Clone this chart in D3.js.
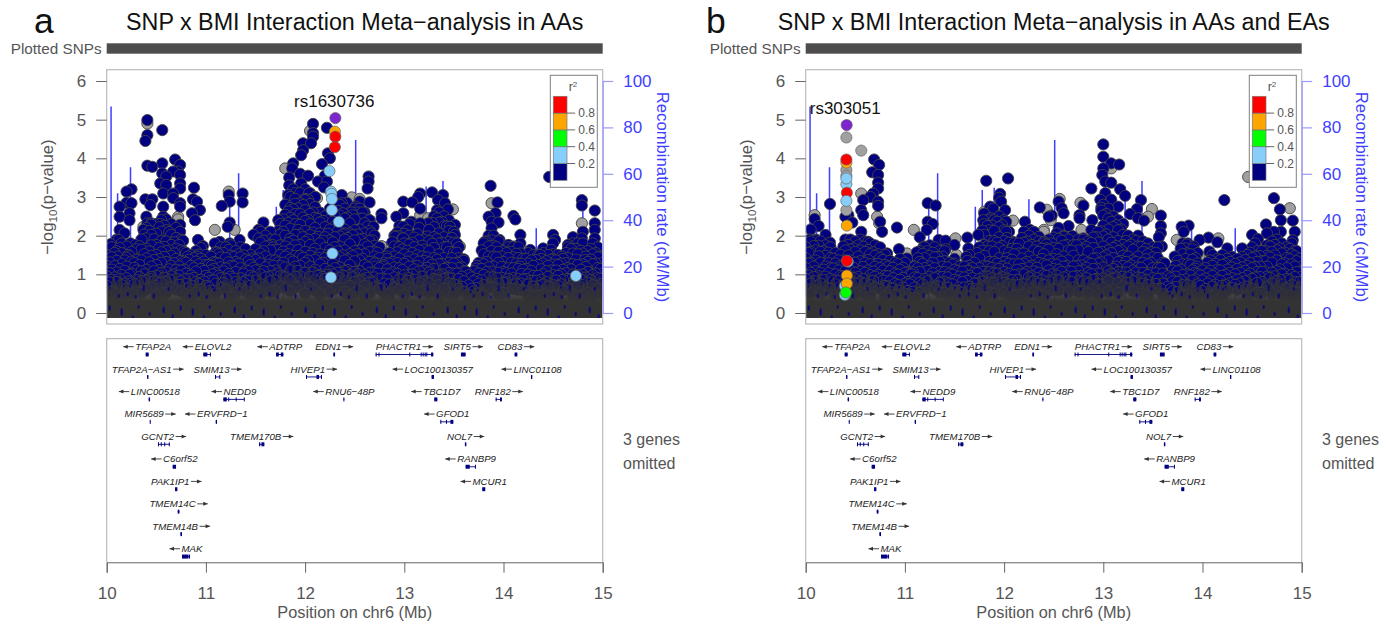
<!DOCTYPE html>
<html>
<head>
<meta charset="utf-8">
<script src="https://cdnjs.cloudflare.com/ajax/libs/d3/7.8.5/d3.min.js"></script>
<style>
    html, body { margin: 0; padding: 0; background: #ffffff; }
    svg { display: block; font-family: "Liberation Sans", sans-serif; }
    .axis-grey text { fill: #555555; font-size: 17px; font-family: "Liberation Sans", sans-serif; }
    .axis-grey line, .axis-grey path { stroke: #666666; stroke-width: 1; }
    .axis-blue text { fill: #3f3fff; font-size: 17px; font-family: "Liberation Sans", sans-serif; }
    .axis-blue line, .axis-blue path { stroke: #9a9aff; stroke-width: 1.2; }
</style>
</head>
<body>
<div id="chart"></div>
<script>
const logpTicks = [0, 1, 2, 3, 4, 5, 6];
const rateTicks = [0, 20, 40, 60, 80, 100];
const posTicks = [10, 11, 12, 13, 14, 15];
const r2Ticks = [0.2, 0.4, 0.6, 0.8];
const r2Colors = ['#000080', '#87cefa', '#00ff00', '#ffa500', '#ff0000'];

// recombination spikes, [Mb, cM/Mb]
const recombPeaks = [
    [10.044, 89], [10.11, 51.6], [10.24, 62.8], [11.24, 45.8], [11.33, 60.2], [11.71, 45.8],
    [11.78, 53], [11.9, 54], [12.25, 49], [12.51, 74.6], [12.82, 31], [13.22, 54.5],
    [13.39, 56.9], [13.89, 35.8], [14.33, 36.5], [14.8, 44.4]
];

const aaNavy = [
    [10.04,1.78],[10.03,1.03],[10.13,2.75],[10.13,2.49],[10.13,2.15],[10.12,1.89],[10.11,1.46],
    [10.2,2.85],[10.2,3.14],[10.25,3.2],[10.25,2.84],[10.23,2.58],[10.23,2.4],[10.18,2.06],[10.24,1.8],[10.22,1.5],[10.29,1.76],
    [10.41,4.99],[10.41,4.6],[10.39,4.45],[10.41,3.81],[10.46,3.78],[10.39,2.94],[10.44,2.79],[10.46,2.94],[10.4,2.49],[10.41,2.32],[10.37,2.15],[10.45,2.32],
    [10.56,4.73],[10.56,3.87],[10.56,3.61],[10.6,3.53],[10.54,3.35],[10.6,3.31],[10.57,3.09],[10.57,2.75],[10.57,2.49],[10.54,2.3],
    [10.69,3.97],[10.74,3.83],[10.72,3.66],[10.74,3.57],[10.67,3.66],[10.74,3.35],[10.74,3.22],[10.67,3.09],[10.67,2.97],[10.74,2.84],[10.74,2.75],
    [10.74,2.28],[10.74,2.1],[10.77,1.87],[10.78,1.59],[10.88,3.24],[10.87,2.94],[10.91,2.88],[10.94,2.66],[10.86,2.58],[10.89,2.4],[10.92,1.89],[10.97,1.73],[10.91,1.46],[10.82,1.46],
    [11.16,2.77],[11.23,3.05],[11.24,2.88],[11.24,2.34],[11.22,2.23],[11.37,3.09],[11.37,2.86],[11.34,1.89],[11.09,1.8],[11.11,1.56],[11.07,1.0],[11.06,1.22],[11.05,1.46],[11.14,1.84],[11.24,1.8],
    [11.58,2.34],[11.53,2.15],[11.48,2.02],[11.65,2.1],[11.67,1.76],[11.73,2.4],
    [11.88,3.87],[11.87,3.74],[11.98,4.21],[11.96,4.08],[11.98,4.39],[12.08,4.89],[12.08,4.65],[12.08,4.56],[12.06,4.39],[12.22,4.79],[12.23,4.13],[12.25,4.0],[12.17,3.85],
    [11.84,3.5],[11.84,3.3],[11.88,3.2],[11.95,3.6],[11.96,3.35],[12.03,3.55],[12.04,3.1],[12.13,3.4],[12.2,3.55],[12.19,3.25],[12.22,3.4],[11.83,3.05],[11.9,2.95],[12.0,2.95],[12.1,3.0],
    [12.64,3.53],[12.64,3.4],[12.63,3.22],[12.65,2.86],[12.55,2.88],[12.47,2.6],[12.37,3.05],[12.37,2.84],[12.4,2.06],[12.42,2.85],[12.51,2.75],[12.58,2.6],
    [12.77,2.56],[12.77,2.45],[12.69,2.23],[12.65,2.4],[12.67,2.06],[12.7,1.59],[12.82,1.46],[12.79,1.24],[12.7,1.28],
    [12.99,2.88],[13.08,2.86],[12.99,2.58],[12.92,2.49],[12.99,2.23],[13.07,2.36],[13.16,2.7],[13.14,3.0],[13.16,3.09],[13.28,3.12],[13.39,3.05],[13.34,2.92],[13.41,2.84],[13.33,2.66],[13.44,2.68],[13.51,2.28],[13.46,2.23],[13.24,2.32],[13.16,2.32],[13.51,2.02],[13.53,1.8],[13.6,1.39],[13.62,1.07],[12.91,1.97],[12.99,1.93],
    [13.73,1.22],[13.87,3.29],[13.94,2.86],[13.85,2.49],[13.92,2.58],[13.88,2.36],[13.95,2.34],[13.88,2.19],[13.81,1.84],[13.96,1.89],
    [14.1,2.51],[14.12,2.42],[14.17,2.02],[14.05,1.76],[14.1,1.72],[14.17,1.8],[14.17,1.54],[14.17,1.2],[14.27,1.63],[14.37,1.5],[14.4,1.67],[14.5,2.02],[14.52,1.89],[14.5,1.4],[14.59,1.46],[14.65,1.76],[14.7,1.96],
    [14.79,2.92],[14.79,2.78],[14.92,2.65],[14.92,2.32],[14.92,2.15],[14.8,2.1],[14.79,1.93],[14.92,1.93],[14.82,1.37],[14.97,1.46],[14.46,3.52]
];
const aaGrey = [
    [10.41,4.9],[11.09,2.15],[11.29,2.15],[11.23,3.14],[10.72,2.49],[10.66,2.3],[10.37,2.23],[10.03,1.24],[11.8,3.74],[12.05,4.71],[12.12,2.97],[12.37,2.99],
    [13.16,2.53],[13.24,2.45],[13.49,2.68],[12.77,1.73],[14.79,2.32],[13.88,2.84],[12.47,2.99],[12.55,2.95],[13.56,1.72],[10.72,2.42]
];
// LD coloured SNPs, [Mb, -log10 p, r2 class]
const aaHits = [
    [12.245,3.67,1],[12.26,3.14,1],[12.265,3.08,1],[12.27,2.95,1],[12.27,2.66,1],[12.34,2.36,1],[12.275,1.54,1],[12.26,0.92,1],[14.73,0.96,1],
    [12.30,4.69,3],[12.305,4.56,4],[12.30,4.29,4]
];
const aaLead = [12.305, 5.04];

// panel a, body of the cloud, [Mb, then -log10 p values in that column]
const aaCover = [
    [10.00,1.5,1.22,.95,.7,.42],[10.05,1.7,1.44,1.12,.86,.55],[10.1,1.9,1.6,1.35,1.05,.8,.48],[10.15,1.8,1.55,1.27,.98,.72,.4],[10.2,1.72,1.43,1.2,.9,.63],
    [10.25,1.58,1.33,1.02,.77,.5],[10.3,1.65,1.38,1.1,.85,.55],[10.35,1.9,1.64,1.36,1.08,.82,.52],[10.4,2.2,1.93,1.66,1.41,1.12,.84,.6],[10.45,2.28,2.02,1.75,1.48,1.2,.93,.66],
    [10.5,2.3,2.05,1.76,1.5,1.24,.96,.7,.44],[10.55,2.4,2.1,1.86,1.57,1.3,1.03,.78,.5],[10.6,2.42,2.14,1.85,1.6,1.32,1.05,.8,.52],[10.65,2.3,2.02,1.76,1.48,1.22,.95,.66],[10.7,2.2,1.94,1.66,1.4,1.12,.88,.6],
    [10.75,1.9,1.62,1.35,1.1,.82,.56],[10.8,1.55,1.3,1.02,.75,.48],[10.85,1.5,1.22,.97,.7,.44],[10.9,1.6,1.33,1.07,.8,.52],[10.95,1.68,1.4,1.14,.86,.6],
    [11.0,1.5,1.24,.96,.7,.42],[11.05,1.1,.84,.58],[11.1,1.58,1.3,1.03,.76,.5],[11.15,1.7,1.44,1.18,.9,.64],[11.2,1.7,1.42,1.15,.88,.6],
    [11.25,1.75,1.48,1.22,.94,.68,.42],[11.3,1.6,1.32,1.06,.8,.52],[11.35,1.7,1.44,1.16,.9,.62],[11.4,1.65,1.38,1.1,.84,.56],[11.45,1.5,1.24,.96,.7,.45],
    [11.5,1.65,1.37,1.1,.84,.58],[11.55,2.1,1.82,1.54,1.28,1.0,.74,.48],[11.6,2.0,1.72,1.46,1.18,.92,.66],[11.65,1.9,1.62,1.36,1.08,.82,.54],[11.7,1.9,1.64,1.36,1.1,.84,.56],
    [11.75,2.3,2.03,1.75,1.5,1.22,.95,.68],[11.8,2.8,2.54,2.26,2.0,1.72,1.46,1.18,.92,.64],[11.85,3.0,2.72,2.46,2.18,1.92,1.64,1.38,1.1,.84,.56],[11.9,3.1,2.83,2.56,2.3,2.02,1.75,1.48,1.2,.94,.66],[11.95,3.1,2.84,2.56,2.28,2.03,1.76,1.48,1.22,.95,.68],
    [12.0,3.2,2.92,2.66,2.38,2.12,1.84,1.58,1.3,1.04,.76,.5],[12.05,3.1,2.82,2.56,2.3,2.02,1.76,1.48,1.2,.94,.66],[12.1,3.0,2.74,2.46,2.2,1.92,1.66,1.38,1.12,.84,.58],[12.15,2.6,2.34,2.06,1.8,1.52,1.26,.98,.72,.46],[12.2,2.5,2.22,1.96,1.68,1.42,1.14,.88,.6],
    [12.25,2.7,2.42,2.16,1.88,1.62,1.34,1.08,.8,.54],[12.3,2.5,2.24,1.96,1.7,1.42,1.16,.88,.62],[12.35,2.8,2.52,2.26,1.98,1.72,1.44,1.18,.9,.64],[12.4,2.7,2.44,2.16,1.9,1.62,1.36,1.08,.82,.54],[12.45,2.6,2.32,2.06,1.78,1.52,1.24,.98,.7,.44],
    [12.5,2.7,2.42,2.14,1.88,1.6,1.34,1.06,.8,.52],[12.55,2.7,2.44,2.16,1.9,1.62,1.36,1.08,.82,.56],[12.6,2.6,2.32,2.06,1.78,1.52,1.24,.98,.7,.44],[12.65,2.4,2.12,1.86,1.58,1.32,1.04,.78,.5],[12.7,2.0,1.74,1.46,1.2,.92,.66],
    [12.75,1.7,1.42,1.16,.88,.62],[12.8,1.3,1.02,.76,.5],[12.85,1.55,1.28,1.0,.74,.46],[12.9,2.0,1.72,1.46,1.18,.92,.64],[12.95,2.25,1.98,1.7,1.41,1.16,.87,.6],
    [13.0,2.05,1.8,1.52,1.27,.98,.74,.47],[13.05,2.3,2.0,1.77,1.45,1.2,.9,.63],[13.1,1.95,1.7,1.39,1.13,.86,.59],[13.15,2.2,1.88,1.62,1.33,1.08,.79,.54],[13.2,1.9,1.64,1.35,1.1,.82,.57],
    [13.25,2.15,1.86,1.6,1.31,1.05,.76,.52],[13.3,2.5,2.22,1.96,1.68,1.42,1.14,.88,.6],[13.35,2.6,2.34,2.06,1.8,1.52,1.26,.98,.72,.44],[13.4,2.5,2.24,1.96,1.7,1.42,1.14,.88,.62],[13.45,2.4,2.12,1.84,1.58,1.3,1.04,.76,.5],
    [13.5,2.1,1.82,1.56,1.28,1.02,.74,.48],[13.55,1.7,1.42,1.16,.88,.62],[13.6,1.35,1.08,.82,.54],[13.65,.98,.72,.46],[13.7,1.08,.82,.56],
    [13.75,1.3,1.02,.76,.5],[13.8,1.8,1.52,1.26,.98,.72,.46],[13.85,2.0,1.72,1.46,1.18,.92,.64],[13.9,2.0,1.74,1.46,1.2,.92,.66],[13.95,1.85,1.58,1.3,1.04,.76,.5],
    [14.0,1.6,1.32,1.06,.78,.52],[14.05,1.7,1.42,1.16,.88,.62],[14.1,1.7,1.44,1.16,.9,.62],[14.15,1.7,1.42,1.14,.88,.6],[14.2,1.4,1.12,.86,.58],
    [14.25,1.55,1.28,1.0,.74,.46],[14.3,1.5,1.22,.96,.68,.42],[14.35,1.5,1.24,.96,.7,.44],[14.4,1.55,1.28,1.0,.74,.48],[14.45,1.5,1.22,.94,.68,.42],
    [14.5,1.8,1.52,1.26,.98,.72,.44],[14.55,1.5,1.24,.96,.7,.42],[14.6,1.4,1.12,.86,.58],[14.65,1.7,1.42,1.16,.88,.62],[14.7,1.8,1.54,1.26,1.0,.72,.46],
    [14.75,1.8,1.52,1.24,.98,.7,.44],[14.8,1.8,1.54,1.26,1.0,.72,.46],[14.85,1.6,1.32,1.06,.78,.52],[14.9,1.8,1.52,1.26,.98,.72,.44],[14.95,1.7,1.44,1.16,.9,.62],
    [15.0,1.3,1.02,.76,.5]
];
// in-between columns that break up the rows
const aaCoverMid = [
    [10.03,1.31,1.03,.79],[10.08,1.55,1.21,.92],[10.13,1.68,1.14,.88],[10.18,1.36,1.09,.76],[10.23,1.47,.99,.82],[10.28,1.29,1.17,.74],[10.33,1.73,1.24,.93],[10.38,2.03,1.52,1.0],
    [10.43,2.12,1.59,1.31,.89],[10.48,1.91,1.37,1.08,.82],[10.53,2.22,1.68,1.39,1.11],[10.58,2.26,1.71,1.45,.91],[10.63,2.09,1.62,1.13,.86],[10.68,1.83,1.54,1.29,1.0],[10.73,1.76,1.21,.97,.73],[10.78,1.33,1.12,.87],
    [10.83,1.38,.88,.64],[10.88,1.42,1.16,.91],[10.93,1.51,1.26,.75],[10.98,1.33,1.09,.81],[11.03,1.24,.91,.66],[11.08,1.32,1.14,.84],[11.13,1.52,1.28,.96],[11.18,1.55,1.08,.78],
    [11.23,1.63,1.31,1.01],[11.28,1.45,1.2,.89],[11.33,1.52,1.27,.74],[11.38,1.49,1.02,.79],[11.43,1.34,1.08,.83],[11.48,1.41,1.17,.92],[11.53,1.93,1.41,1.12],[11.58,1.87,1.6,1.08],
    [11.63,1.74,1.25,.94],[11.68,1.7,1.22,.97],[11.73,2.12,1.63,1.31,1.02],[11.78,2.42,2.1,1.59,1.3],[11.83,2.63,2.33,1.81,1.52],[11.88,2.68,2.4,1.87,1.33],[11.93,2.71,2.15,1.63,1.09],[11.98,2.79,2.47,1.96,1.43],
    [12.03,2.93,2.41,1.9,1.36],[12.08,2.6,2.08,1.55,1.05],[12.13,2.43,1.97,1.43,.96],[12.18,2.38,1.87,1.3,.93],[12.23,2.55,2.05,1.5,.99],[12.28,2.36,1.83,1.27,1.0],[12.33,2.64,2.11,1.59,1.04],[12.38,2.58,2.03,1.49,.97],
    [12.43,2.47,1.94,1.39,1.11],[12.48,2.53,2.01,1.47,.92],[12.53,2.6,2.03,1.52,1.0],[12.58,2.44,1.92,1.4,.86],[12.63,2.24,1.72,1.18,.91],[12.68,1.88,1.33,1.05,.79],[12.73,1.56,1.28,1.02],[12.78,1.2,.89,.64],
    [12.83,1.4,1.13,.87],[12.88,1.83,1.32,1.05],[12.93,2.08,1.57,1.29,1.01],[12.98,1.93,1.64,1.11],[13.03,2.14,1.61,1.33,.83],[13.08,1.82,1.55,1.0],[13.13,2.04,1.49,1.22],[13.18,1.74,1.46,.94],
    [13.23,1.98,1.44,1.17],[13.28,2.33,1.79,1.25,.99],[13.33,2.45,1.91,1.38,.85],[13.38,2.36,1.82,1.27,1.0],[13.43,2.24,1.7,1.17,.91],[13.48,1.94,1.42,1.16,.89],[13.53,1.56,1.3,1.02],[13.58,1.18,.94,.68],
    [13.68,.92,.63],[13.73,1.15,.88,.64],[13.78,1.62,1.14,.85],[13.83,1.85,1.32,1.06],[13.88,1.88,1.6,1.07],[13.93,1.7,1.44,.9],[13.98,1.46,1.19,.91],[14.03,1.55,1.03,.79],
    [14.08,1.58,1.3,1.02],[14.13,1.53,1.28,.75],[14.18,1.27,1.01,.76],[14.23,1.4,1.14,.88],[14.28,1.36,1.09,.83],[14.33,1.37,.83,.6],[14.38,1.4,1.13,.86],[14.43,1.34,1.08,.8],
    [14.48,1.63,1.38,1.1],[14.53,1.36,1.1,.84],[14.58,1.28,1.0,.74],[14.63,1.55,1.29,1.03],[14.68,1.65,1.13,.87],[14.73,1.66,1.38,.85],[14.78,1.61,1.12,.86],[14.83,1.46,1.19,.92],
    [14.88,1.66,1.38,.85],[14.93,1.55,1.28,1.02],[14.98,1.14,.88,.63]
];
// panel a, flame tops of the solid overlap region
const aaFlames = [
    [10,.9],[10.03,.6],[10.07,1.05],[10.1,.7],[10.14,1.2],[10.17,.65],[10.2,.95],[10.24,.62],[10.28,1.1],[10.31,.7],[10.35,1.25],[10.38,.75],[10.42,1.3],[10.45,.85],[10.49,1.2],[10.52,.8],
    [10.56,1.4],[10.59,.85],[10.63,1.15],[10.66,.75],[10.7,1.3],[10.73,.7],[10.77,1.0],[10.8,.6],[10.84,1.05],[10.87,.65],[10.91,1.1],[10.94,.7],[10.98,.95],[11.01,.6],[11.04,.75],[11.08,.55],
    [11.12,1.0],[11.15,.65],[11.19,1.15],[11.22,.75],[11.26,1.0],[11.29,.65],[11.33,1.15],[11.36,.7],[11.4,.95],[11.43,.6],[11.47,1.1],[11.5,.7],[11.54,1.3],[11.57,.8],[11.61,1.1],[11.64,.7],
    [11.68,1.2],[11.71,.75],[11.75,1.35],[11.78,.9],[11.82,1.45],[11.85,.85],[11.89,1.6],[11.92,.95],[11.96,1.3],[11.99,.85],[12.03,1.55],[12.06,.9],[12.1,1.35],[12.13,.8],[12.17,1.2],[12.2,.75],
    [12.24,1.35],[12.27,.85],[12.31,1.15],[12.34,.8],[12.38,1.45],[12.41,.9],[12.45,1.3],[12.48,.85],[12.52,1.5],[12.55,.95],[12.59,1.25],[12.62,.8],[12.66,1.2],[12.69,.7],[12.73,1.05],[12.76,.6],
    [12.8,.8],[12.83,.55],[12.87,1.0],[12.9,.7],[12.94,1.2],[12.97,.75],[13.01,1.3],[13.04,.85],[13.08,1.2],[13.11,.75],[13.15,1.4],[13.18,.85],[13.22,1.2],[13.25,.8],[13.29,1.5],[13.32,.95],
    [13.36,1.4],[13.39,.9],[13.43,1.25],[13.46,.8],[13.5,1.1],[13.53,.7],[13.57,.95],[13.6,.6],[13.64,.7],[13.67,.5],[13.71,.75],[13.74,.55],[13.78,1.0],[13.81,.7],[13.85,1.25],[13.88,.85],
    [13.92,1.2],[13.95,.75],[13.99,1.05],[14.02,.65],[14.06,1.15],[14.09,.75],[14.13,1.1],[14.16,.7],[14.2,.9],[14.23,.6],[14.27,1.05],[14.3,.65],[14.34,1.0],[14.37,.6],[14.41,1.1],[14.44,.7],
    [14.48,1.2],[14.51,.75],[14.55,.95],[14.58,.6],[14.62,1.05],[14.65,.7],[14.69,1.25],[14.72,.8],[14.76,1.1],[14.79,.7],[14.83,1.2],[14.86,.75],[14.9,1.25],[14.93,.8],[14.97,1.05],[15,.7]
];

// panel b
const eaNavy = [
    [10.69,3.97],[10.74,3.83],[10.67,3.64],[10.73,3.57],[10.73,3.37],[10.73,3.22],[10.68,3.09],[10.65,3.0],[10.58,2.92],[10.73,2.88],[10.73,2.77],
    [10.245,2.82],[10.09,2.43],[10.13,2.25],[10.05,2.16],[10.2,2.02],[10.245,1.82],[10.04,1.9],[10.11,1.88],
    [10.43,2.53],[10.47,2.34],[10.4,2.49],[10.56,2.66],[10.58,2.53],[10.56,2.1],[10.63,1.84],[10.75,2.36],[10.77,2.1],[10.92,2.21],[10.94,1.65],[10.82,1.54],[11.02,1.41],[11.07,1.0],[11.12,1.57],[11.15,1.96],
    [11.23,2.84],[11.31,2.78],[11.23,2.36],[11.28,2.3],[11.22,2.15],[11.19,1.72],[11.34,1.89],[11.41,1.87],[11.41,1.65],[11.5,1.76],[11.5,1.28],[11.63,1.95],[11.64,1.67],[11.62,1.45],[11.64,1.1],[11.74,2.02],
    [11.82,3.42],[12.04,3.48],[11.96,3.08],[11.97,2.88],[11.86,2.75],[11.89,2.7],[11.8,2.57],[11.79,2.4],[12.01,2.66],[12.02,2.36],[11.86,2.45],[12.02,2.1],[12.09,1.84],[11.95,2.98],
    [12.36,2.73],[12.45,2.49],[12.21,2.36],[12.26,2.15],[12.3,2.1],[12.35,1.97],[12.4,1.84],[12.43,1.67],
    [13.0,4.36],[13.0,4.04],[13.0,3.74],[12.99,3.57],[13.08,3.87],[13.16,3.84],[13.02,3.4],[13.08,3.37],[13.17,3.2],[13.22,3.03],[12.88,3.22],[13.02,3.1],[13.08,2.93],[13.15,2.75],[12.97,2.93],[12.98,2.72],
    [13.38,2.92],[13.34,2.69],[13.27,2.56],[13.35,2.45],[13.41,2.39],[13.58,2.52],[13.58,2.25],[13.58,2.06],[13.56,1.96],[13.59,1.72],[13.62,1.28],[13.72,1.46],
    [12.55,2.88],[12.58,2.71],[12.48,2.52],[12.6,2.58],[12.65,2.25],[12.6,1.97],[12.69,1.99],[12.76,2.53],[12.76,2.45],[12.8,2.78],[12.89,2.4],[12.88,2.15],[12.8,1.93],
    [13.86,2.26],[13.79,2.23],[13.81,2.1],[13.97,1.89],[14.06,1.95],[14.15,1.83],[13.84,1.77],[13.91,1.72],[13.94,1.2],[13.92,1.03],[14.07,1.59],[14.22,2.92],[14.25,1.67],
    [14.4,1.67],[14.5,2.02],[14.56,1.91],[14.53,1.8],[14.64,2.29],[14.65,2.06],[14.72,2.97],[14.78,2.68],[14.79,2.4],[14.91,2.39],[14.93,2.1],[14.79,2.1],[14.72,2.1],[14.91,1.88],[14.93,1.61],[14.98,1.41]
];
const eaGrey = [
    [10.09,2.53],[10.56,3.09],[10.72,2.49],[10.74,2.32],[11.09,2.15],[11.51,1.93],[11.52,1.5],[11.02,1.54],[11.07,1.2],[12.09,2.39],[12.4,2.15],[11.8,2.62],[12.43,2.67],
    [13.49,2.69],[12.78,2.15],[12.77,2.85],[13.08,3.74],[14.46,3.52],[14.88,2.71],[13.45,2.49],[12.56,2.95],[12.47,2.4],[13.74,1.89],[13.97,1.47],[14.16,1.93],[12.4,2.1]
];
const eaHits = [
    [10.41,4.54,-1],[10.56,4.2,-1],[10.41,3.7,-1],[10.41,3.55,-1],[10.41,2.66,-1],
    [10.395,.7,1],[10.395,.47,1],[10.425,1.33,1],[10.41,3.33,1],
    [10.41,3.89,3],[10.41,3.97,4],[10.41,3.48,1],[10.415,3.11,4],[10.41,2.9,1],[10.415,2.26,3],[10.415,1.35,4],
    [10.415,.97,3],[10.415,.76,3],[10.405,.53,2]
];
const eaLead = [10.413, 4.86];

const eaCover = [
    [10.0,1.7,1.42,1.16,.88,.62],[10.05,1.85,1.58,1.3,1.04,.76,.5],[10.1,1.9,1.62,1.36,1.08,.82,.54],[10.15,1.85,1.58,1.3,1.04,.76,.5],[10.2,1.75,1.48,1.2,.94,.66],
    [10.25,1.7,1.42,1.16,.88,.62],[10.3,1.55,1.28,1.0,.74,.46],[10.35,1.5,1.22,.96,.68,.42],[10.4,1.9,1.62,1.36,1.08,.82,.54],[10.45,1.9,1.64,1.36,1.1,.82,.56],
    [10.5,1.85,1.58,1.3,1.04,.76,.5],[10.55,1.9,1.62,1.34,1.08,.8,.54],[10.6,1.85,1.58,1.3,1.04,.76,.5],[10.65,1.8,1.52,1.26,.98,.72,.44],[10.7,1.75,1.48,1.2,.94,.66],
    [10.75,1.7,1.42,1.16,.88,.62],[10.8,1.5,1.24,.96,.7,.42],[10.85,1.35,1.08,.82,.54],[10.9,1.3,1.02,.76,.48],[10.95,1.4,1.12,.86,.58],
    [11.0,1.3,1.04,.76,.5],[11.05,1.0,.74,.48],[11.1,1.2,.92,.66,.4],[11.15,1.6,1.32,1.06,.78,.52],[11.2,1.7,1.42,1.16,.88,.62],
    [11.25,1.75,1.48,1.2,.94,.66],[11.3,1.7,1.44,1.16,.9,.62],[11.35,1.6,1.32,1.06,.78,.52],[11.4,1.6,1.34,1.06,.8,.52],[11.45,1.3,1.02,.76,.48],
    [11.5,1.4,1.12,.86,.58],[11.55,1.2,.94,.66,.4],[11.6,1.2,.92,.66,.38],[11.65,1.5,1.22,.96,.68,.42],[11.7,1.3,1.04,.76,.5],
    [11.75,1.7,1.42,1.16,.88,.62],[11.8,2.3,2.02,1.76,1.48,1.22,.94,.68,.4],[11.85,2.4,2.14,1.86,1.6,1.32,1.06,.78,.52],[11.9,2.4,2.12,1.86,1.58,1.32,1.04,.78,.5],[11.95,2.5,2.22,1.96,1.68,1.42,1.14,.88,.6],
    [12.0,2.4,2.14,1.86,1.6,1.32,1.06,.78,.52],[12.05,2.1,1.82,1.56,1.28,1.02,.74,.48],[12.1,1.8,1.52,1.26,.98,.72,.44],[12.15,1.8,1.54,1.26,1.0,.72,.46],[12.2,2.1,1.82,1.54,1.28,1.0,.74,.46],
    [12.25,2.0,1.72,1.46,1.18,.92,.64],[12.3,1.9,1.62,1.36,1.08,.82,.54],[12.35,1.85,1.58,1.3,1.04,.76,.5],[12.4,1.8,1.52,1.26,.98,.72,.44],[12.45,1.9,1.64,1.36,1.1,.82,.56],
    [12.5,1.95,1.68,1.4,1.14,.86,.6],[12.55,2.2,1.92,1.66,1.38,1.12,.84,.58],[12.6,2.0,1.74,1.46,1.2,.92,.66],[12.65,1.9,1.62,1.36,1.08,.82,.54],[12.7,1.75,1.48,1.2,.94,.66],
    [12.75,1.9,1.62,1.36,1.08,.82,.54],[12.8,1.9,1.64,1.36,1.1,.82,.56],[12.85,1.85,1.58,1.3,1.04,.76,.5],[12.9,1.95,1.68,1.4,1.14,.86,.6],[12.95,2.1,1.82,1.56,1.28,1.02,.74,.48],
    [13.0,2.8,2.52,2.26,1.98,1.72,1.44,1.18,.9,.64],[13.05,2.7,2.44,2.16,1.9,1.62,1.36,1.08,.82,.54],[13.1,2.5,2.22,1.96,1.68,1.42,1.14,.88,.6],[13.15,2.4,2.14,1.86,1.6,1.32,1.06,.78,.52],[13.2,2.3,2.02,1.76,1.48,1.22,.94,.68],
    [13.25,2.0,1.72,1.46,1.18,.92,.64],[13.3,1.9,1.64,1.36,1.1,.82,.56],[13.35,2.0,1.72,1.46,1.18,.92,.64],[13.4,1.85,1.58,1.3,1.04,.76,.5],[13.45,1.8,1.52,1.26,.98,.72,.44],
    [13.5,1.7,1.44,1.16,.9,.62],[13.55,1.7,1.42,1.16,.88,.62],[13.6,1.3,1.02,.76,.48],[13.65,.95,.68,.42],[13.7,1.1,.82,.56],
    [13.75,1.35,1.08,.8,.54],[13.8,1.8,1.52,1.26,.98,.72,.44],[13.85,1.8,1.54,1.26,1.0,.72,.46],[13.9,1.65,1.38,1.1,.84,.56],[13.95,1.55,1.28,1.0,.74,.46],
    [14.0,1.1,.84,.56],[14.05,1.3,1.02,.76,.48],[14.1,1.5,1.22,.96,.68,.42],[14.15,1.4,1.12,.86,.58],[14.2,1.5,1.24,.96,.7,.42],
    [14.25,1.4,1.12,.86,.58],[14.3,1.45,1.18,.9,.64],[14.35,1.4,1.14,.86,.6],[14.4,1.45,1.18,.9,.64],[14.45,1.5,1.22,.96,.68,.42],
    [14.5,1.7,1.42,1.16,.88,.62],[14.55,1.6,1.32,1.06,.78,.52],[14.6,1.6,1.34,1.06,.8,.52],[14.65,1.75,1.48,1.2,.94,.66],[14.7,1.85,1.58,1.3,1.04,.76,.5],
    [14.75,1.9,1.62,1.36,1.08,.82,.54],[14.8,1.8,1.54,1.26,1.0,.72,.46],[14.85,1.7,1.42,1.16,.88,.62],[14.9,1.8,1.52,1.26,.98,.72,.44],[14.95,1.6,1.34,1.06,.8,.52],
    [15.0,1.2,.94,.66,.4]
];
const eaCoverMid = [
    [10.03,1.55,1.28,.97],[10.08,1.73,1.2,.93],[10.13,1.74,1.47,.95],[10.18,1.6,1.12,.85],[10.23,1.56,1.29,1.03],[10.28,1.4,1.15,.84],[10.33,1.36,1.1,.82],[10.38,1.72,1.22,.95],
    [10.43,1.76,1.49,.97],[10.48,1.67,1.17,.91],[10.53,1.75,1.46,.93],[10.58,1.71,1.19,.88],[10.63,1.63,1.37,1.1],[10.68,1.57,1.07,.83],[10.73,1.52,1.27,.99],[10.78,1.37,1.1,.84],
    [10.83,1.2,.95,.68],[10.88,1.17,.9,.63],[10.93,1.26,.99,.72],[10.98,1.17,.91,.66],[11.03,1.05,.8,.57],[11.08,1.06,.79,.55],[11.13,1.42,1.16,.9],[11.18,1.53,1.27,.74],
    [11.23,1.6,1.09,.82],[11.28,1.56,1.3,1.03],[11.33,1.45,.94,.69],[11.38,1.46,1.2,.93],[11.43,1.18,.92,.65],[11.48,1.25,.99,.74],[11.53,1.08,.82,.57],[11.58,1.07,.8,.53],
    [11.63,1.35,1.09,.83],[11.68,1.16,.9,.63],[11.73,1.55,1.03,.77],[11.78,2.13,1.61,1.07,.81],[11.83,2.25,1.72,1.2,.94],[11.88,2.26,1.72,1.17,.9],[11.93,2.36,1.82,1.28,1.02],[11.98,2.27,1.73,1.2,.92],
    [12.03,1.94,1.42,1.15,.88],[12.08,1.66,1.38,.85],[12.13,1.66,1.12,.86],[12.18,1.94,1.41,1.14],[12.23,1.85,1.32,1.06],[12.28,1.76,1.22,.95],[12.33,1.72,1.17,.9],[12.38,1.66,1.4,.85],
    [12.43,1.77,1.23,.96],[12.48,1.8,1.27,1.0],[12.53,2.06,1.52,1.25,.97],[12.58,1.87,1.33,1.06],[12.63,1.76,1.22,.95],[12.68,1.61,1.07,.8],[12.73,1.75,1.22,.95],[12.78,1.77,1.23,.96],
    [12.83,1.71,1.17,.9],[12.88,1.81,1.27,1.0],[12.93,1.96,1.42,1.15,.88],[12.98,2.65,2.11,1.58,1.31],[13.03,2.56,2.03,1.49,.95],[13.08,2.36,1.82,1.55,1.01],[13.13,2.27,1.73,1.2,.92],[13.18,2.16,1.62,1.35,.81],
    [13.23,1.86,1.32,1.05,.78],[13.28,1.77,1.23,.96],[13.33,1.86,1.32,1.05],[13.38,1.71,1.17,.9],[13.43,1.66,1.39,.85],[13.48,1.57,1.3,1.03],[13.53,1.56,1.03,.75],[13.58,1.16,.89,.62],
    [13.68,.9,.62],[13.73,1.22,.94,.67],[13.78,1.66,1.12,.85],[13.83,1.67,1.4,.87],[13.88,1.52,1.24,.97],[13.93,1.42,1.14,.87],[13.98,.97,.7],[14.03,1.16,.89,.62],
    [14.08,1.36,1.09,.82],[14.13,1.27,1.0,.73],[14.18,1.37,1.1,.83],[14.23,1.27,.99,.72],[14.28,1.32,1.04,.77],[14.33,1.27,1.0,.73],[14.38,1.31,1.04,.77],[14.43,1.37,1.09,.82],
    [14.48,1.56,1.29,1.02],[14.53,1.46,1.19,.92],[14.58,1.47,1.2,.93],[14.63,1.61,1.34,1.07],[14.68,1.72,1.44,.91],[14.73,1.76,1.49,.95],[14.78,1.67,1.13,.86],[14.83,1.56,1.29,1.02],
    [14.88,1.66,1.39,.85],[14.93,1.47,1.2,.93],[14.98,1.07,.8,.53]
];
const eaFlames = [
    [10,1.0],[10.03,.65],[10.07,1.15],[10.1,.75],[10.14,1.2],[10.17,.7],[10.21,1.05],[10.24,.65],[10.28,1.0],[10.31,.6],[10.35,.95],[10.38,.6],[10.42,1.1],[10.45,.7],[10.49,1.2],[10.52,.75],
    [10.56,1.1],[10.59,.7],[10.63,1.2],[10.66,.75],[10.7,1.05],[10.73,.65],[10.77,1.0],[10.8,.6],[10.84,.9],[10.87,.55],[10.91,.85],[10.94,.6],[10.98,.9],[11.01,.55],[11.04,.7],[11.08,.5],
    [11.12,.85],[11.15,.6],[11.19,1.05],[11.22,.7],[11.26,1.1],[11.29,.7],[11.33,1.0],[11.36,.65],[11.4,1.0],[11.43,.6],[11.47,.85],[11.5,.6],[11.54,.8],[11.57,.55],[11.61,.8],[11.64,.55],
    [11.68,.9],[11.71,.6],[11.75,1.1],[11.78,.75],[11.82,1.4],[11.85,.85],[11.89,1.5],[11.92,.9],[11.96,1.35],[11.99,.85],[12.03,1.25],[12.06,.8],[12.1,1.05],[12.13,.65],[12.17,1.1],[12.2,.7],
    [12.24,1.25],[12.27,.8],[12.31,1.1],[12.34,.7],[12.38,1.1],[12.41,.7],[12.45,1.15],[12.48,.75],[12.52,1.3],[12.55,.8],[12.59,1.2],[12.62,.75],[12.66,1.1],[12.69,.7],[12.73,1.1],[12.76,.7],
    [12.8,1.15],[12.83,.7],[12.87,1.1],[12.9,.75],[12.94,1.2],[12.97,.8],[13.01,1.6],[13.04,.95],[13.08,1.45],[13.11,.9],[13.15,1.35],[13.18,.85],[13.22,1.25],[13.25,.75],[13.29,1.15],[13.32,.7],
    [13.36,1.2],[13.39,.75],[13.43,1.1],[13.46,.7],[13.5,1.05],[13.53,.65],[13.57,.95],[13.6,.55],[13.64,.65],[13.67,.45],[13.71,.7],[13.74,.5],[13.78,1.0],[13.81,.65],[13.85,1.1],[13.88,.75],
    [13.92,.95],[13.95,.6],[13.99,.7],[14.02,.5],[14.06,.85],[14.09,.55],[14.13,.9],[14.16,.6],[14.2,.95],[14.23,.6],[14.27,.9],[14.3,.6],[14.34,.85],[14.37,.6],[14.41,.95],[14.44,.6],
    [14.48,1.1],[14.51,.7],[14.55,.95],[14.58,.6],[14.62,1.05],[14.65,.7],[14.69,1.2],[14.72,.75],[14.76,1.15],[14.79,.75],[14.83,1.05],[14.86,.7],[14.9,1.1],[14.93,.7],[14.97,.95],[15,.6]
];

// genes: name, strand, row, [start, end], exons
const geneTable = [
    ['TFAP2A', -1, 0, [10.393, 10.423], [[10.393, 10.423]]],
    ['ELOVL2', -1, 0, [10.974, 11.048], [[10.974, 11.015], [11.04, 11.048]]],
    ['ADTRP', -1, 0, [11.707, 11.781], [[11.707, 11.735], [11.755, 11.781]]],
    ['EDN1', 1, 0, [12.285, 12.302], [[12.285, 12.302]]],
    ['PHACTR1', 1, 0, [12.711, 13.292], [[12.711, 12.715], [12.74, 12.744], [13.05, 13.054], [13.165, 13.169], [13.185, 13.189], [13.205, 13.209], [13.222, 13.226], [13.27, 13.292]]],
    ['SIRT5', 1, 0, [13.571, 13.618], [[13.571, 13.618]]],
    ['CD83', 1, 0, [14.112, 14.139], [[14.112, 14.139]]],
    ['TFAP2A\u2212AS1', 1, 1, [10.407, 10.42], [[10.407, 10.42]]],
    ['SMIM13', 1, 1, [11.092, 11.143], [[11.092, 11.098], [11.135, 11.143]]],
    ['HIVEP1', 1, 1, [12.009, 12.167], [[12.009, 12.014], [12.115, 12.14], [12.16, 12.167]]],
    ['LOC100130357', -1, 1, [13.275, 13.299], [[13.275, 13.299]]],
    ['LINC01108', -1, 1, [14.277, 14.29], [[14.277, 14.29]]],
    ['LINC00518', -1, 2, [10.423, 10.437], [[10.423, 10.437]]],
    ['NEDD9', -1, 2, [11.176, 11.388], [[11.176, 11.21], [11.225, 11.23], [11.3, 11.305], [11.382, 11.388]]],
    ['RNU6\u221248P', -1, 2, [12.386, 12.396], [[12.386, 12.396]]],
    ['TBC1D7', -1, 2, [13.302, 13.333], [[13.302, 13.333]]],
    ['RNF182', 1, 2, [13.921, 13.984], [[13.921, 13.926], [13.965, 13.984]]],
    ['MIR5689', 1, 3, [10.434, 10.44], [[10.434, 10.44]]],
    ['ERVFRD\u22121', -1, 3, [11.099, 11.112], [[11.099, 11.112]]],
    ['GFOD1', -1, 3, [13.363, 13.494], [[13.363, 13.368], [13.42, 13.425], [13.465, 13.494]]],
    ['GCNT2', 1, 4, [10.517, 10.632], [[10.517, 10.523], [10.545, 10.55], [10.58, 10.585], [10.626, 10.632]]],
    ['TMEM170B', 1, 4, [11.536, 11.589], [[11.536, 11.548], [11.56, 11.589]]],
    ['NOL7', 1, 4, [13.611, 13.625], [[13.611, 13.625]]],
    ['C6orf52', -1, 5, [10.665, 10.699], [[10.665, 10.699]]],
    ['RANBP9', -1, 5, [13.618, 13.719], [[13.618, 13.66], [13.712, 13.719]]],
    ['PAK1IP1', 1, 6, [10.689, 10.712], [[10.689, 10.712]]],
    ['MCUR1', -1, 6, [13.786, 13.816], [[13.786, 13.816]]],
    ['TMEM14C', 1, 7, [10.716, 10.733], [[10.716, 10.733]]],
    ['TMEM14B', 1, 8, [10.743, 10.759], [[10.743, 10.759]]],
    ['MAK', -1, 9, [10.759, 10.84], [[10.759, 10.82], [10.825, 10.84]]]
];

const WIDTH = 1387;
const HEIGHT = 624;
const TEXT_GREY = '#555555';
const NAVY = '#000080';

const svg = d3.select('#chart').append('svg')
    .attr('width', WIDTH)
    .attr('height', HEIGHT)
    .attr('viewBox', `0 0 ${WIDTH} ${HEIGHT}`);

const defs = svg.append('defs');

// overlap texture for the solid part of the cloud
const specks = defs.append('pattern')
    .attr('id', 'specks')
    .attr('patternUnits', 'userSpaceOnUse')
    .attr('width', 71)
    .attr('height', 43);
specks.append('rect').attr('width', 71).attr('height', 43).attr('fill', '#333333');
[[3, 7, 3], [10, 24, 2], [15, 11, 4], [21, 36, 2.5], [26, 17, 3], [32, 6, 2], [37, 30, 3.5], [43, 13, 2],
    [47, 38, 3], [52, 22, 2.5], [57, 9, 3.5], [62, 31, 2], [66, 16, 3], [29, 39, 2], [12, 38, 2]].forEach(([cx, cy, ry]) => {
    specks.append('ellipse')
        .attr('cx', cx).attr('cy', cy)
        .attr('rx', 0.9).attr('ry', ry)
        .attr('fill', NAVY);
});

const fade = defs.append('linearGradient')
    .attr('id', 'band-fade')
    .attr('gradientUnits', 'userSpaceOnUse')
    .attr('x1', 0).attr('x2', 0)
    .attr('y1', 318).attr('y2', 250);
fade.append('stop').attr('offset', 0.25).attr('stop-color', '#fff').attr('stop-opacity', 1);
fade.append('stop').attr('offset', 0.55).attr('stop-color', '#fff').attr('stop-opacity', 0.72);
fade.append('stop').attr('offset', 1).attr('stop-color', '#fff').attr('stop-opacity', 0.05);
defs.append('mask')
    .attr('id', 'band-mask')
    .attr('maskUnits', 'userSpaceOnUse')
    .attr('x', 0).attr('y', 0).attr('width', 700).attr('height', 400)
    .append('rect')
    .attr('x', 0).attr('y', 0).attr('width', 700).attr('height', 400)
    .attr('fill', 'url(#band-fade)');

defs.append('clipPath')
    .attr('id', 'plot-clip')
    .append('rect')
    .attr('x', 0).attr('y', 69.7)
    .attr('width', 496).attr('height', 254.3);

function drawPanel(cfg) {
    const g = svg.append('g').attr('transform', `translate(${cfg.left},0)`);
    const plotW = 496;

    const x = d3.scaleLinear().domain([10, 15]).range([0, plotW]);
    const y = d3.scaleLinear().domain([0, 6]).range([313, 81]);
    const rate = d3.scaleLinear().domain([0, 100]).range([313, 81]);

    // letter and title
    g.append('text')
        .attr('x', cfg.letterX - cfg.left)
        .attr('y', 32.5)
        .attr('font-size', 35.5)
        .attr('fill', '#111')
        .text(cfg.letter);
    g.append('text')
        .attr('x', plotW / 2)
        .attr('y', 30)
        .attr('text-anchor', 'middle')
        .attr('font-size', 23.3)
        .attr('fill', '#111')
        .text(cfg.title);

    // plotted SNP bar
    g.append('text')
        .attr('x', -5)
        .attr('y', 54)
        .attr('text-anchor', 'end')
        .attr('font-size', 15.3)
        .attr('fill', TEXT_GREY)
        .text('Plotted SNPs');
    g.append('rect')
        .attr('x', 0).attr('y', 43.3)
        .attr('width', plotW).attr('height', 10.4)
        .attr('fill', '#4d4d4d');

    // association plot
    const plot = g.append('g').attr('clip-path', 'url(#plot-clip)');
    plot.append('g')
        .selectAll('line')
        .data(recombPeaks)
        .join('line')
        .attr('x1', (d) => x(d[0]))
        .attr('x2', (d) => x(d[0]))
        .attr('y1', (d) => rate(d[1]))
        .attr('y2', rate(0))
        .attr('stroke', '#3f3fff')
        .attr('stroke-width', 1.5);

    const drawDots = (rows, fill) => {
        plot.append('g')
            .selectAll('circle')
            .data(rows)
            .join('circle')
            .attr('cx', (d) => x(d[0]))
            .attr('cy', (d) => y(d[1]))
            .attr('r', 5.6)
            .attr('fill', fill)
            .attr('stroke', '#444444')
            .attr('stroke-width', 0.9);
    };

    drawDots(cfg.grey, '#a0a0a0');

    const columnsToRows = (cols) => cols.flatMap((col) => col.slice(1).map((v) => [col[0], v]));
    const navyRows = columnsToRows(cfg.cover).concat(columnsToRows(cfg.coverMid), cfg.navy);
    drawDots(navyRows.sort((a, b) => b[1] - a[1]), NAVY);

    const bandArea = d3.area()
        .x((d) => x(d[0]))
        .y0(318)
        .y1((d) => y(d[1]));
    plot.append('g')
        .attr('mask', 'url(#band-mask)')
        .append('path')
        .datum(cfg.band)
        .attr('d', bandArea)
        .attr('fill', 'url(#specks)');

    plot.append('g')
        .selectAll('circle')
        .data(cfg.hits)
        .join('circle')
        .attr('cx', (d) => x(d[0]))
        .attr('cy', (d) => y(d[1]))
        .attr('r', 5.6)
        .attr('fill', (d) => (d[2] < 0 ? '#a0a0a0' : r2Colors[d[2]]))
        .attr('stroke', '#666666')
        .attr('stroke-width', 0.7);
    plot.append('circle')
        .attr('cx', x(cfg.lead[0]))
        .attr('cy', y(cfg.lead[1]))
        .attr('r', 5.6)
        .attr('fill', '#7d26cd')
        .attr('stroke', '#666666')
        .attr('stroke-width', 0.7);

    g.append('rect')
        .attr('x', 0).attr('y', 69.7)
        .attr('width', plotW).attr('height', 254.3)
        .attr('fill', 'none')
        .attr('stroke', '#bbbbbb')
        .attr('stroke-width', 1.2);

    g.append('text')
        .attr('x', cfg.snpLabelX)
        .attr('y', cfg.snpLabelY)
        .attr('text-anchor', 'middle')
        .attr('font-size', 17)
        .attr('fill', '#111')
        .text(cfg.snp);

    // axes
    const yAxis = g.append('g')
        .attr('class', 'axis-grey')
        .call(d3.axisLeft(y).tickValues(logpTicks).tickFormat(d3.format('d')).tickSize(10.5).tickPadding(10));
    yAxis.select('.domain').remove();

    g.append('g')
        .attr('class', 'axis-blue')
        .attr('transform', `translate(${plotW},0)`)
        .call(d3.axisRight(rate).tickValues(rateTicks).tickFormat(d3.format('d')).tickSize(10.5).tickSizeOuter(0).tickPadding(10));

    const yTitle = g.append('text')
        .attr('transform', 'translate(-54,197) rotate(-90)')
        .attr('text-anchor', 'middle')
        .attr('font-size', 16.8)
        .attr('fill', TEXT_GREY);
    yTitle.append('tspan').text('\u2212log');
    yTitle.append('tspan').attr('font-size', 11.5).attr('dy', 4).text('10');
    yTitle.append('tspan').attr('dy', -4).text('(p\u2212value)');

    g.append('text')
        .attr('transform', `translate(${plotW + 54},197) rotate(90)`)
        .attr('text-anchor', 'middle')
        .attr('font-size', 16.7)
        .attr('fill', '#3f3fff')
        .text('Recombination rate (cM/Mb)');

    // r2 key
    const key = g.append('g');
    const keyScale = d3.scaleLinear().domain([0, 1]).range([180.3, 96.3]);
    key.append('rect')
        .attr('x', 443.6).attr('y', 75.3)
        .attr('width', 47).attr('height', 112)
        .attr('fill', '#ffffff')
        .attr('stroke', '#808080')
        .attr('stroke-width', 1);
    key.selectAll('rect.cell')
        .data(r2Colors)
        .join('rect')
        .attr('class', 'cell')
        .attr('x', 446.6)
        .attr('y', (d, i) => keyScale((i + 1) / 5))
        .attr('width', 13.7)
        .attr('height', (d, i) => keyScale(i / 5) - keyScale((i + 1) / 5))
        .attr('fill', (d) => d)
        .attr('stroke', '#777777')
        .attr('stroke-width', 0.7);
    key.selectAll('line.tick')
        .data(r2Ticks)
        .join('line')
        .attr('class', 'tick')
        .attr('x1', 460.3).attr('x2', 468.5)
        .attr('y1', (d) => keyScale(d))
        .attr('y2', (d) => keyScale(d))
        .attr('stroke', '#666666');
    key.selectAll('text.tick-label')
        .data(r2Ticks)
        .join('text')
        .attr('class', 'tick-label')
        .attr('x', 471.6)
        .attr('y', (d) => keyScale(d) + 4.3)
        .attr('font-size', 12)
        .attr('fill', TEXT_GREY)
        .text((d) => d.toFixed(1));
    const keyTitle = key.append('text')
        .attr('x', 466.3).attr('y', 91)
        .attr('text-anchor', 'middle')
        .attr('font-size', 12.5)
        .attr('fill', TEXT_GREY);
    keyTitle.append('tspan').text('r');
    keyTitle.append('tspan').attr('font-size', 8).attr('dy', -4.5).text('2');

    // gene track
    const trackTop = 338.7;
    const trackBottom = 562.3;
    const rowH = 22.45;
    g.append('path')
        .attr('d', `M0,${trackBottom}V${trackTop}H${plotW}V${trackBottom}`)
        .attr('fill', 'none')
        .attr('stroke', '#bbbbbb')
        .attr('stroke-width', 1.2);

    const geneG = g.append('g');
    geneTable.forEach(([name, strand, row, span, exons]) => {
        const labelY = 346.7 + row * rowH;
        const glyphY = labelY + 7.8;
        const one = geneG.append('g');
        one.append('line')
            .attr('x1', x(span[0])).attr('x2', x(span[1]))
            .attr('y1', glyphY).attr('y2', glyphY)
            .attr('stroke', NAVY)
            .attr('stroke-width', 0.9);
        one.selectAll('rect')
            .data(exons)
            .join('rect')
            .attr('x', (d) => x(d[0]))
            .attr('y', glyphY - 2)
            .attr('width', (d) => Math.max(x(d[1]) - x(d[0]), 1))
            .attr('height', 4)
            .attr('fill', NAVY);

        const label = one.append('text')
            .attr('y', labelY + 3.4)
            .attr('font-size', 9.7)
            .attr('font-style', 'italic')
            .attr('fill', '#222222')
            .text(name);
        const textW = label.node().getComputedTextLength();
        const arrowW = 10.5;
        const gap = 1.5;
        const start = x((span[0] + span[1]) / 2) - (textW + gap + arrowW) / 2;
        const textX = strand < 0 ? start + arrowW + gap : start;
        label.attr('x', textX);
        const arrowX = strand < 0 ? start : start + textW + gap;
        const tipX = strand < 0 ? arrowX : arrowX + arrowW;
        const backX = strand < 0 ? arrowX + arrowW : arrowX;
        one.append('line')
            .attr('x1', backX).attr('x2', tipX)
            .attr('y1', labelY).attr('y2', labelY)
            .attr('stroke', '#333333')
            .attr('stroke-width', 0.9);
        one.append('path')
            .attr('d', `M${tipX},${labelY}L${tipX - strand * 4.5},${labelY - 2}L${tipX - strand * 4.5},${labelY + 2}Z`)
            .attr('fill', '#333333');
    });

    g.append('g')
        .attr('class', 'axis-grey')
        .attr('transform', `translate(0,${trackBottom})`)
        .call(d3.axisBottom(x).tickValues(posTicks).tickFormat(d3.format('d')).tickSize(10.4).tickSizeOuter(10.4).tickPadding(14));

    g.append('text')
        .attr('x', plotW / 2)
        .attr('y', 618)
        .attr('text-anchor', 'middle')
        .attr('font-size', 16.3)
        .attr('fill', TEXT_GREY)
        .text('Position on chr6 (Mb)');

    g.selectAll('text.omitted')
        .data(['3 genes', 'omitted'])
        .join('text')
        .attr('class', 'omitted')
        .attr('x', plotW + 20.3)
        .attr('y', (d, i) => 444.5 + i * 24)
        .attr('font-size', 16)
        .attr('fill', TEXT_GREY)
        .text((d) => d);
}

drawPanel({
    left: 106.7,
    letter: 'a',
    letterX: 34,
    title: 'SNP x BMI Interaction Meta\u2212analysis in AAs',
    navy: aaNavy,
    grey: aaGrey,
    hits: aaHits,
    lead: aaLead,
    cover: aaCover,
    coverMid: aaCoverMid,
    band: aaFlames,
    snp: 'rs1630736',
    snpLabelX: 227.5,
    snpLabelY: 106.7
});

drawPanel({
    left: 805.7,
    letter: 'b',
    letterX: 706,
    title: 'SNP x BMI Interaction Meta\u2212analysis in AAs and EAs',
    navy: eaNavy,
    grey: eaGrey,
    hits: eaHits,
    lead: eaLead,
    cover: eaCover,
    coverMid: eaCoverMid,
    band: eaFlames,
    snp: 'rs303051',
    snpLabelX: 39.5,
    snpLabelY: 113.7
});
</script>
</body>
</html>
